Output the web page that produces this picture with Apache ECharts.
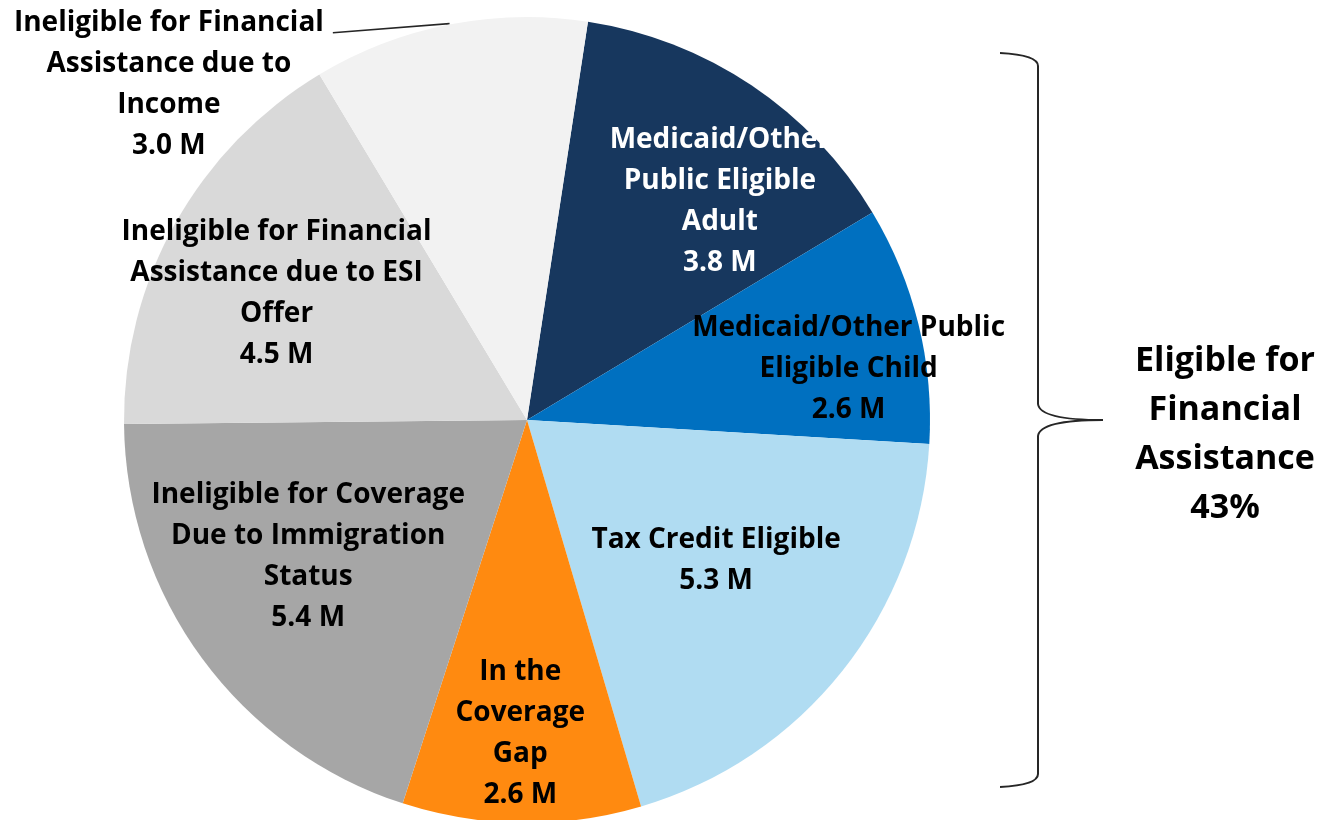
<!DOCTYPE html>
<html>
<head>
<meta charset="UTF-8">
<title>Uninsured by eligibility</title>
<script src="https://cdn.jsdelivr.net/npm/echarts@6/dist/echarts.min.js"></script>
<style>
    html, body { margin: 0; padding: 0; background: #fff; }
    #chart { width: 1326px; height: 820px; }
</style>
</head>
<body>
<div id="chart"></div>
<script type="text/javascript">
    var groups = [
        'Medicaid/Other\nPublic Eligible\nAdult',
        'Medicaid/Other Public\nEligible Child',
        'Tax Credit Eligible',
        'In the\nCoverage\nGap',
        'Ineligible for Coverage\nDue to Immigration\nStatus',
        'Ineligible for Financial\nAssistance due to ESI\nOffer',
        'Ineligible for Financial\nAssistance due to\nIncome'
    ];
    var millions = [3.8, 2.6, 5.3, 2.6, 5.4, 4.5, 3.0];
    var bracketText = 'Eligible for\nFinancial\nAssistance\n43%';

    var colors = ['#17375E', '#0070C0', '#B0DCF2', '#FF8A10', '#A6A6A6', '#D9D9D9', '#F2F2F2'];
    var textColors = ['#ffffff', '#000000', '#000000', '#000000', '#000000', '#000000', '#000000'];
    // shift of each label from where echarts puts it
    var labelNudge = [[79, -49], [123, -2], [29, 13], [-4, 109], [-54, 15], [-72, -27], [-4, 61]];

    var myChart = echarts.init(document.getElementById('chart'));

    var braceStyle = { fill: 'none', stroke: '#262626', lineWidth: 2 };
    function curve(x1, y1, cx, cy, x2, y2) {
        return { type: 'bezierCurve', shape: { x1: x1, y1: y1, cpx1: cx, cpy1: cy, x2: x2, y2: y2 }, style: braceStyle };
    }
    function seg(x1, y1, x2, y2) {
        return { type: 'line', shape: { x1: x1, y1: y1, x2: x2, y2: y2 }, style: braceStyle };
    }

    var option = {
        backgroundColor: '#ffffff',
        animation: false,
        series: [{
            type: 'pie',
            center: [527, 420],
            radius: 403,
            startAngle: 81.3,
            clockwise: true,
            avoidLabelOverlap: false,
            emphasis: { disabled: true },
            label: {
                position: 'inside',
                fontFamily: 'Open Sans',
                fontWeight: 'bold',
                fontSize: 28,
                lineHeight: 41,
                align: 'center',
                formatter: function (p) {
                    return p.name + '\n' + p.value.toFixed(1) + ' M';
                }
            },
            labelLine: {
                length: 1,
                length2: 116,
                lineStyle: { color: '#262626', width: 1.5 }
            },
            labelLayout: function (params) {
                var n = labelNudge[params.dataIndex];
                if (params.labelLinePoints) {
                    var r = params.labelRect;
                    var pts = params.labelLinePoints.map(function (p) { return [p[0], p[1]]; });
                    // the line meets the text a little below its top line
                    pts[pts.length - 1][1] += 9;
                    return {
                        x: r.x + r.width / 2 + n[0],
                        y: r.y + r.height / 2 + n[1],
                        align: 'center',
                        verticalAlign: 'middle',
                        labelLinePoints: pts
                    };
                }
                return { dx: n[0], dy: n[1] };
            },
            data: millions.map(function (v, i) {
                var item = {
                    name: groups[i],
                    value: v,
                    itemStyle: { color: colors[i] },
                    label: { color: textColors[i] }
                };
                if (i === 6) {
                    item.label.position = 'outside';
                }
                return item;
            })
        }],
        graphic: [
            curve(1000, 53, 1038, 55, 1038, 66),
            seg(1038, 66, 1038, 404),
            curve(1038, 404, 1040, 420, 1103, 420),
            curve(1038, 436, 1040, 420, 1103, 420),
            seg(1038, 436, 1038, 774),
            curve(1038, 774, 1038, 785, 1000, 787),
            {
                type: 'text',
                x: 1225,
                y: 337,
                style: {
                    text: bracketText,
                    fill: '#000000',
                    font: 'bold 34px "Open Sans"',
                    lineHeight: 49,
                    align: 'center',
                    verticalAlign: 'top'
                }
            }
        ]
    };
    myChart.setOption(option);
</script>
</body>
</html>
